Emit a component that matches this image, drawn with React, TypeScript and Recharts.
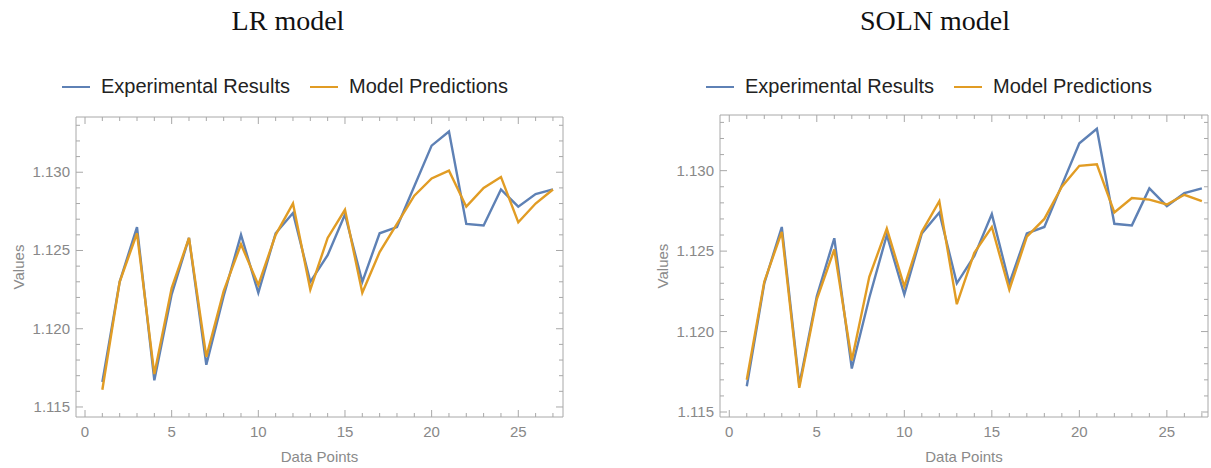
import React from "react";
import { LineChart, Line, XAxis, YAxis, Legend } from "recharts";

// data points 1..27
const points = [1, 2, 3, 4, 5, 6, 7, 8, 9, 10, 11, 12, 13, 14, 15, 16, 17, 18, 19, 20, 21, 22, 23, 24, 25, 26, 27];

const experimental = [
  1.1166, 1.123, 1.1265, 1.1167, 1.1222, 1.1258, 1.1177, 1.1221, 1.126, 1.1223, 1.1261, 1.1274, 1.123, 1.1247,
  1.1273, 1.123, 1.1261, 1.1265, 1.1291, 1.1317, 1.1326, 1.1267, 1.1266, 1.1289, 1.1278, 1.1286, 1.1289,
];

const lrPredictions = [
  1.1161, 1.123, 1.1261, 1.1171, 1.1226, 1.1258, 1.1182, 1.1224, 1.1254, 1.1228, 1.126, 1.128, 1.1225, 1.1258,
  1.1276, 1.1223, 1.1249, 1.1267, 1.1285, 1.1296, 1.1301, 1.1278, 1.129, 1.1297, 1.1268, 1.128, 1.1289,
];

const solnPredictions = [
  1.117, 1.1231, 1.1262, 1.1165, 1.122, 1.1251, 1.1182, 1.1234, 1.1264, 1.1228, 1.1262, 1.1281, 1.1217, 1.1249,
  1.1265, 1.1226, 1.1259, 1.127, 1.129, 1.1303, 1.1304, 1.1274, 1.1283, 1.1282, 1.1279, 1.1285, 1.1281,
];

const xTicks = [0, 1, 2, 3, 4, 5, 6, 7, 8, 9, 10, 11, 12, 13, 14, 15, 16, 17, 18, 19, 20, 21, 22, 23, 24, 25, 26, 27];
const xMajor = [0, 5, 10, 15, 20, 25];
const yTicks = [
  1.115, 1.116, 1.117, 1.118, 1.119, 1.12, 1.121, 1.122, 1.123, 1.124, 1.125, 1.126, 1.127, 1.128, 1.129, 1.13,
  1.131, 1.132, 1.133,
];
const yMajor = ["1.115", "1.120", "1.125", "1.130"];

const FRAME = "#a8a8a8";
const TICK_TEXT = "#888888";
const SANS = '"Liberation Sans", Arial, sans-serif';
const BLUE = "#5e81b5";
const ORANGE = "#e19c24";

const BottomTick = (props: any) => {
  const { x, y, payload } = props;
  const major = xMajor.includes(payload.value);
  return (
    <g>
      <line x1={x} x2={x} y1={y} y2={y - (major ? 7 : 4)} stroke={FRAME} />
      {major && (
        <text x={x} y={y + 20} textAnchor="middle" fill={TICK_TEXT} fontSize={15} fontFamily={SANS}>
          {payload.value}
        </text>
      )}
    </g>
  );
};

const TopTick = (props: any) => {
  const { x, y, payload } = props;
  const major = xMajor.includes(payload.value);
  return <line x1={x} x2={x} y1={y} y2={y + (major ? 7 : 4)} stroke={FRAME} />;
};

const LeftTick = (props: any) => {
  const { x, y, payload } = props;
  const label = Number(payload.value).toFixed(3);
  const major = yMajor.includes(label);
  return (
    <g>
      <line x1={x} x2={x + (major ? 7 : 4)} y1={y} y2={y} stroke={FRAME} />
      {major && (
        <text x={x - 6} y={y + 5} textAnchor="end" fill={TICK_TEXT} fontSize={15} fontFamily={SANS}>
          {label}
        </text>
      )}
    </g>
  );
};

const RightTick = (props: any) => {
  const { x, y, payload } = props;
  const major = yMajor.includes(Number(payload.value).toFixed(3));
  return <line x1={x} x2={x - (major ? 7 : 4)} y1={y} y2={y} stroke={FRAME} />;
};

const renderLegend = (props: any) => {
  const { payload } = props;
  return (
    <div style={{ display: "flex", alignItems: "center", fontFamily: SANS, fontSize: 20, color: "#222" }}>
      {(payload || []).map((item: any) => (
        <div key={item.value} style={{ display: "flex", alignItems: "center", marginRight: 20 }}>
          <span style={{ display: "inline-block", width: 28, height: 2, background: item.color, marginRight: 11 }} />
          <span>{item.value}</span>
        </div>
      ))}
    </div>
  );
};

type PanelProps = {
  title: string;
  predictions: number[];
  left: number;
  width: number;
  margin: { top: number; right: number; bottom: number; left: number };
  yAxisWidth: number;
  labelOffset: number;
  xDomain: [number, number];
  yDomain: [number, number];
  titleCenter: number;
  legendLeft: number;
};

function Panel(p: PanelProps) {
  const data = points.map((x, i) => ({ x, exp: experimental[i], pred: p.predictions[i] }));
  return (
    <div style={{ position: "absolute", left: p.left, top: 0, width: p.width, height: 468 }}>
      <div
        style={{
          position: "absolute",
          left: p.titleCenter - p.left - 150,
          width: 300,
          top: 5,
          textAlign: "center",
          fontFamily: '"Liberation Serif", "Times New Roman", serif',
          fontSize: 28,
          color: "#111",
        }}
      >
        {p.title}
      </div>
      <LineChart width={p.width} height={468} data={data} margin={p.margin}>
        <XAxis
          xAxisId="bottom"
          type="number"
          dataKey="x"
          domain={p.xDomain}
          allowDataOverflow
          ticks={xTicks}
          interval={0}
          height={51}
          tickSize={0}
          tickMargin={0}
          stroke={FRAME}
          tick={<BottomTick />}
          label={{ value: "Data Points", position: "insideBottom", offset: 6, fill: "#8a8a8a", fontSize: 15, fontFamily: SANS }}
        />
        <XAxis
          xAxisId="top"
          orientation="top"
          type="number"
          dataKey="x"
          domain={p.xDomain}
          allowDataOverflow
          ticks={xTicks}
          interval={0}
          height={1}
          tickSize={0}
          tickMargin={0}
          stroke={FRAME}
          tick={<TopTick />}
        />
        <YAxis
          yAxisId="left"
          type="number"
          domain={p.yDomain}
          allowDataOverflow
          ticks={yTicks}
          interval={0}
          width={p.yAxisWidth}
          tickSize={0}
          tickMargin={0}
          stroke={FRAME}
          tick={<LeftTick />}
          label={{
            value: "Values",
            angle: -90,
            position: "insideLeft",
            offset: p.labelOffset,
            fill: "#8a8a8a",
            fontSize: 15,
            fontFamily: SANS,
            style: { textAnchor: "middle" },
          }}
        />
        <YAxis
          yAxisId="right"
          orientation="right"
          type="number"
          domain={p.yDomain}
          allowDataOverflow
          ticks={yTicks}
          interval={0}
          width={1}
          tickSize={0}
          tickMargin={0}
          stroke={FRAME}
          tick={<RightTick />}
        />
        <Legend
          verticalAlign="middle"
          align="center"
          layout="horizontal"
          content={renderLegend}
          wrapperStyle={{ left: p.legendLeft - p.left, top: 75, width: 540 }}
        />
        <Line
          xAxisId="bottom"
          yAxisId="left"
          dataKey="exp"
          name="Experimental Results"
          stroke={BLUE}
          strokeWidth={2.4}
          dot={false}
          isAnimationActive={false}
        />
        <Line
          xAxisId="bottom"
          yAxisId="left"
          dataKey="pred"
          name="Model Predictions"
          stroke={ORANGE}
          strokeWidth={2.4}
          dot={false}
          isAnimationActive={false}
        />
      </LineChart>
    </div>
  );
}

export default function App() {
  return (
    <div style={{ position: "absolute", left: 0, top: 0, width: 1211, height: 468, background: "#fff" }}>
      <Panel
        title="LR model"
        predictions={lrPredictions}
        left={0}
        width={600}
        margin={{ top: 116, right: 36, bottom: 0, left: 0 }}
        yAxisWidth={76}
        labelOffset={19}
        xDomain={[-0.52, 27.58]}
        yDomain={[1.11436, 1.13353]}
        titleCenter={288}
        legendLeft={62}
      />
      <Panel
        title="SOLN model"
        predictions={solnPredictions}
        left={640}
        width={571}
        margin={{ top: 114, right: 2, bottom: 0, left: 0 }}
        yAxisWidth={80}
        labelOffset={23}
        xDomain={[-0.53, 27.35]}
        yDomain={[1.11469, 1.13346]}
        titleCenter={935}
        legendLeft={706}
      />
    </div>
  );
}
